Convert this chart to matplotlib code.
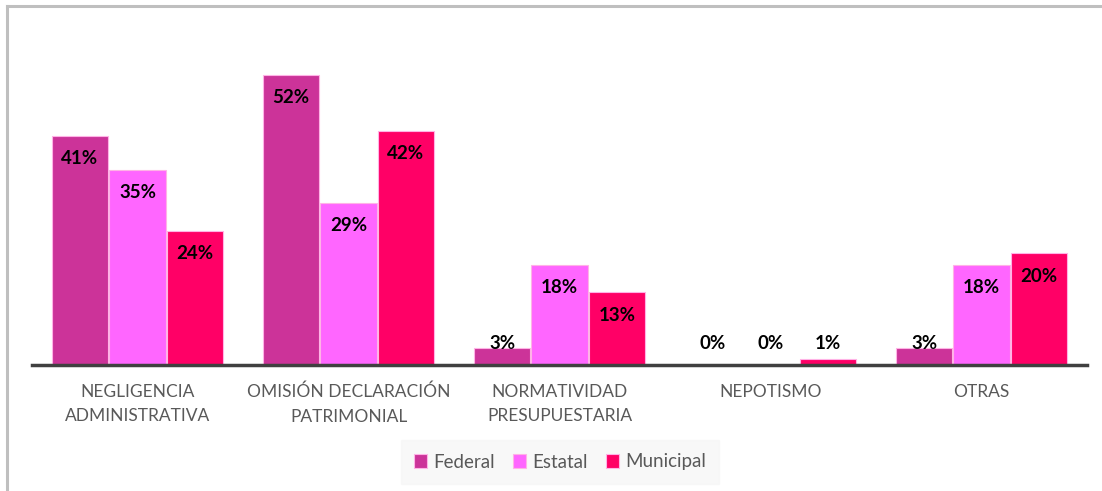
import matplotlib.pyplot as plt
import numpy as np
from matplotlib.lines import Line2D

# Data
categories = ["NEGLIGENCIA\nADMINISTRATIVA", "OMISIÓN DECLARACIÓN\nPATRIMONIAL",
              "NORMATIVIDAD\nPRESUPUESTARIA", "NEPOTISMO", "OTRAS"]
federal = [41, 52, 3, 0, 3]
estatal = [35, 29, 18, 0, 18]
municipal = [24, 42, 13, 1, 20]

series = [("Federal", federal, "#CC3399"),
          ("Estatal", estatal, "#FF66FF"),
          ("Municipal", municipal, "#FF0066")]

plt.rcParams['font.family'] = ['Lato', 'DejaVu Sans']

fig = plt.figure(figsize=(11.02, 4.91), dpi=100)
ax = fig.add_axes([32 / 1102, 126 / 491, 1055 / 1102, 335 / 491])

x = np.arange(len(categories))
width = 0.27
offsets = [-0.2725, 0, 0.2725]

for (name, vals, color), off in zip(series, offsets):
    ax.bar(x + off, vals, width, color=color, edgecolor="#FFB3E6", linewidth=0.8, label=name)
    for xi, v in zip(x, vals):
        ax.text(xi + off, max(v - 4.1, 3.9), f"{v}%", ha="center", va="center",
                fontsize=13.5, fontweight="bold", color="black")

ax.set_xlim(-0.5, len(categories) - 0.5)
ax.set_ylim(0, 60)
ax.set_xticks(x)
ax.set_xticklabels(categories, fontsize=12.5, color="#595959", linespacing=1.65)
ax.tick_params(axis="x", length=0, pad=13.5)
ax.set_yticks([])
for s in ["top", "right", "left"]:
    ax.spines[s].set_visible(False)
ax.spines["bottom"].set_color("#404040")
ax.spines["bottom"].set_linewidth(2.5)

# legend
leg = fig.legend(loc="center", bbox_to_anchor=(560 / 1102, 1 - 462 / 491), ncol=3,
                 frameon=True, fontsize=13.5, handlelength=0.7, handleheight=0.7,
                 handletextpad=0.3, columnspacing=1.0, borderpad=0.7)
leg.get_frame().set_facecolor("#F7F7F7")
leg.get_frame().set_edgecolor("#F7F7F7")
leg.get_frame().set_boxstyle("square", pad=0.0)
for t in leg.get_texts():
    t.set_color("#595959")

# chart border (top and left only visible)
fig.add_artist(Line2D([7 / 1102, 1.0], [1 - 5.5 / 491, 1 - 5.5 / 491], color="#BFBFBF", lw=2.2))
fig.add_artist(Line2D([7 / 1102, 7 / 1102], [0, 1 - 5.5 / 491], color="#BFBFBF", lw=2.2))

plt.savefig("out.png", dpi=100)
